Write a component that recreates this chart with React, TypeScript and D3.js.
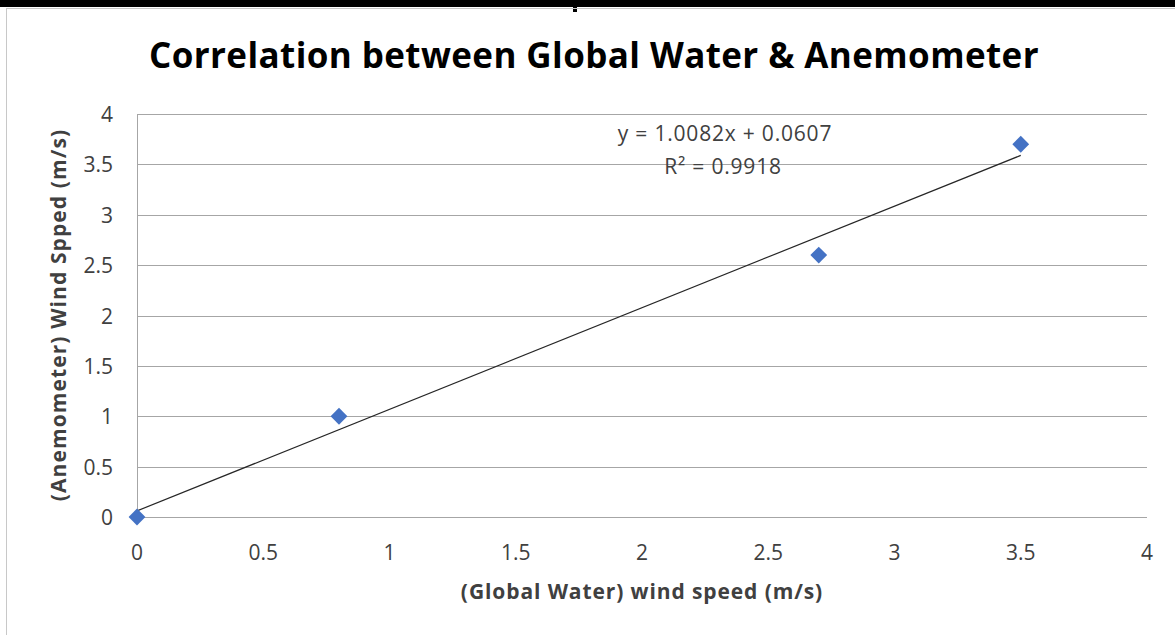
import React, { useRef, useEffect } from 'react';
import * as d3 from 'd3';

// Global Water (x) vs Anemometer (y) readings, m/s
const globalWater = [0, 0.8, 2.7, 3.5];
const anemometer = [0, 1, 2.6, 3.7];
const xTicks = [0, 0.5, 1, 1.5, 2, 2.5, 3, 3.5, 4];
const yTicks = [0, 0.5, 1, 1.5, 2, 2.5, 3, 3.5, 4];

const W = 1175;
const H = 635;
const font = "'Open Sans', 'Noto Sans', sans-serif";

const App: React.FC = () => {
    const svgRef = useRef<SVGSVGElement | null>(null);

    useEffect(() => {
        const svg = d3.select(svgRef.current);
        svg.selectAll('*').remove();

        // frame: black bar at the top and the chart's border
        svg.append('rect').attr('x', 0).attr('y', 0).attr('width', W).attr('height', 7).attr('fill', '#000');
        svg.append('rect').attr('x', 573).attr('y', 0).attr('width', 4).attr('height', 12).attr('fill', '#000');
        svg.append('rect')
            .attr('x', 6.5).attr('y', 8.5)
            .attr('width', W + 10).attr('height', H + 10)
            .attr('fill', 'none').attr('stroke', '#c8c8c8');

        const x = d3.scaleLinear().domain([0, 4]).range([137, 1147]);
        const y = d3.scaleLinear().domain([0, 4]).range([517, 114]);

        // horizontal gridlines
        svg.append('g').selectAll('line')
            .data(yTicks)
            .enter()
            .append('line')
            .attr('x1', x(0)).attr('x2', x(4))
            .attr('y1', d => Math.round(y(d)) + 0.5).attr('y2', d => Math.round(y(d)) + 0.5)
            .attr('stroke', '#a6a6a6').attr('stroke-width', 1);

        // vertical axis line
        svg.append('line')
            .attr('x1', x(0) + 0.5).attr('x2', x(0) + 0.5)
            .attr('y1', y(4)).attr('y2', y(0))
            .attr('stroke', '#a6a6a6');

        // tick labels
        svg.append('g').selectAll('text')
            .data(yTicks)
            .enter()
            .append('text')
            .attr('x', 113)
            .attr('y', d => y(d) + 8)
            .attr('text-anchor', 'end')
            .style('font-family', font)
            .style('font-size', '21px')
            .attr('fill', '#404040')
            .text(d => String(d));

        svg.append('g').selectAll('text')
            .data(xTicks)
            .enter()
            .append('text')
            .attr('x', d => x(d))
            .attr('y', 560)
            .attr('text-anchor', 'middle')
            .style('font-family', font)
            .style('font-size', '21px')
            .attr('fill', '#404040')
            .text(d => String(d));

        // linear trendline (least squares)
        const mx = d3.mean(globalWater)!;
        const my = d3.mean(anemometer)!;
        const sxy = d3.sum(globalWater, (v, i) => (v - mx) * (anemometer[i] - my));
        const sxx = d3.sum(globalWater, v => (v - mx) ** 2);
        const syy = d3.sum(anemometer, v => (v - my) ** 2);
        const slope = sxy / sxx;
        const intercept = my - slope * mx;
        const r2 = (sxy * sxy) / (sxx * syy);

        const x0 = d3.min(globalWater)!;
        const x1 = d3.max(globalWater)!;
        svg.append('line')
            .attr('x1', x(x0)).attr('y1', y(slope * x0 + intercept))
            .attr('x2', x(x1)).attr('y2', y(slope * x1 + intercept))
            .attr('stroke', '#262626').attr('stroke-width', 1.2);

        // markers
        const diamond = d3.symbol().type(d3.symbolDiamond2).size(180);
        svg.append('g').selectAll('path')
            .data(globalWater)
            .enter()
            .append('path')
            .attr('d', diamond)
            .attr('transform', (d, i) => `translate(${x(d)},${y(anemometer[i])})`)
            .attr('fill', '#4472c4');

        // trendline label
        svg.append('text')
            .attr('x', 725).attr('y', 141)
            .attr('text-anchor', 'middle')
            .style('font-family', font)
            .style('font-size', '21px')
            .style('letter-spacing', '0.8px')
            .attr('fill', '#404040')
            .text(`y = ${slope.toFixed(4)}x + ${intercept.toFixed(4)}`);
        svg.append('text')
            .attr('x', 723).attr('y', 174)
            .attr('text-anchor', 'middle')
            .style('font-family', font)
            .style('font-size', '21px')
            .style('letter-spacing', '0.8px')
            .attr('fill', '#404040')
            .text(`R² = ${r2.toFixed(4)}`);

        // titles
        svg.append('text')
            .attr('x', 594).attr('y', 68)
            .attr('text-anchor', 'middle')
            .style('font-family', font)
            .style('font-size', '35px')
            .style('font-weight', 'bold')
            .style('letter-spacing', '0.4px')
            .attr('fill', '#000')
            .text('Correlation between Global Water & Anemometer');

        svg.append('text')
            .attr('x', 642).attr('y', 599)
            .attr('text-anchor', 'middle')
            .style('font-family', font)
            .style('font-size', '21px')
            .style('font-weight', 'bold')
            .style('letter-spacing', '0.9px')
            .attr('fill', '#404040')
            .text('(Global Water) wind speed (m/s)');

        svg.append('text')
            .attr('transform', 'translate(66,315) rotate(-90)')
            .attr('text-anchor', 'middle')
            .style('font-family', font)
            .style('font-size', '21px')
            .style('font-weight', 'bold')
            .style('letter-spacing', '1.1px')
            .attr('fill', '#404040')
            .text('(Anemometer) Wind Spped (m/s)');
    }, []);

    return (
        <svg ref={svgRef} width={W} height={H} style={{ position: 'absolute', left: 0, top: 0, background: '#fff' }}></svg>
    );
};

export default App;
